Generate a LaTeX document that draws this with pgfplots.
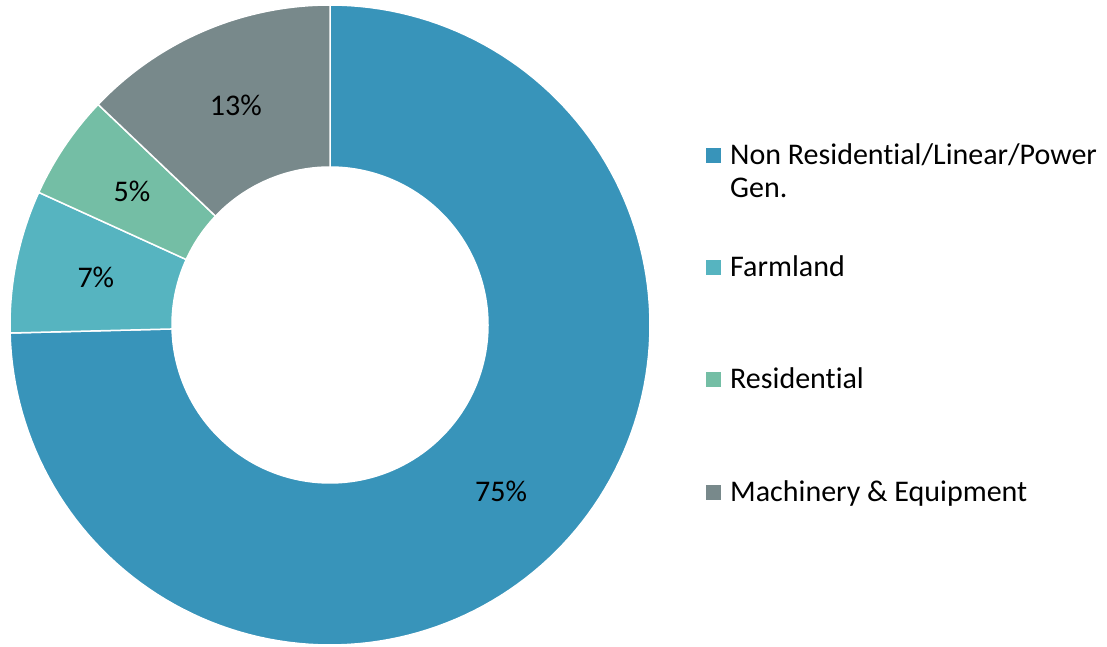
\documentclass[border=0pt]{standalone}
\usepackage{pgfplots}
\pgfplotsset{compat=1.18}
\usepackage{fontspec}
\setmainfont{Carlito}[Ligatures={NoCommon,TeX}]
\definecolor{cBlue}{HTML}{3894BA}
\definecolor{cFarm}{HTML}{56B4C0}
\definecolor{cRes}{HTML}{74BEA5}
\definecolor{cMach}{HTML}{78898B}
% shares in percent (clockwise from 12 o'clock)
\def\vBlue{74.6}
\def\vFarm{7.2}
\def\vRes{5.3}
\def\vMach{12.9}
\def\Rout{320}
\def\Rin{158}
\newcommand\legtext[3]{%
  \fill[#1] (axis cs:376,#2+2) rectangle (axis cs:391,#2+17);
  \node[anchor=base west, inner sep=0pt, font=\fontsize{30}{33}\selectfont] at (axis cs:400,#2) {#3};
}
\begin{document}
\begin{tikzpicture}
\pgfmathsetmacro\aA{90}
\pgfmathsetmacro\aB{\aA-3.6*\vBlue}
\pgfmathsetmacro\aC{\aB-3.6*\vFarm}
\pgfmathsetmacro\aD{\aC-3.6*\vRes}
\pgfmathsetmacro\aE{\aD-3.6*\vMach}
\pgfmathsetmacro\Rmid{(\Rout+\Rin)/2}
\pgfmathsetmacro\mA{(\aA+\aB)/2}
\pgfmathsetmacro\mB{(\aB+\aC)/2}
\pgfmathsetmacro\mC{(\aC+\aD)/2}
\pgfmathsetmacro\mD{(\aD+\aE)/2}
\begin{axis}[x=1pt,y=1pt,xmin=-330,xmax=777,ymin=-322,ymax=325,
  hide axis, clip=false, scale only axis]
\addplot[draw=none] coordinates {(-330,-322) (777,325)};
\addplot[fill=cBlue, draw=white, line width=1.5pt, domain=\aB:\aA, samples=150, variable=\ang] ({\Rout*cos(\ang)},{\Rout*sin(\ang)}) -- (axis cs:0,0) -- cycle;
\addplot[fill=cFarm, draw=white, line width=1.5pt, domain=\aC:\aB, samples=30, variable=\ang] ({\Rout*cos(\ang)},{\Rout*sin(\ang)}) -- (axis cs:0,0) -- cycle;
\addplot[fill=cRes, draw=white, line width=1.5pt, domain=\aD:\aC, samples=30, variable=\ang] ({\Rout*cos(\ang)},{\Rout*sin(\ang)}) -- (axis cs:0,0) -- cycle;
\addplot[fill=cMach, draw=white, line width=1.5pt, domain=\aE:\aD, samples=50, variable=\ang] ({\Rout*cos(\ang)},{\Rout*sin(\ang)}) -- (axis cs:0,0) -- cycle;
\addplot[fill=white, draw=white, line width=1.5pt, domain=0:360, samples=180, variable=\ang] ({\Rin*cos(\ang)},{\Rin*sin(\ang)}) -- cycle;
% percentage labels
\node[font=\fontsize{30}{34}\selectfont] at (axis cs:{\Rmid*cos(\mA)},{\Rmid*sin(\mA)}) {75\%};
\node[font=\fontsize{30}{34}\selectfont] at (axis cs:{\Rmid*cos(\mB)},{\Rmid*sin(\mB)}) {7\%};
\node[font=\fontsize{30}{34}\selectfont] at (axis cs:{\Rmid*cos(\mC)},{\Rmid*sin(\mC)}) {5\%};
\node[font=\fontsize{30}{34}\selectfont] at (axis cs:{\Rmid*cos(\mD)},{\Rmid*sin(\mD)}) {13\%};
% legend
\legtext{cBlue}{160}{Non Residential/Linear/Power}
\node[anchor=base west, inner sep=0pt, font=\fontsize{30}{33}\selectfont] at (axis cs:400,127) {Gen.};
\legtext{cFarm}{48}{Farmland}
\legtext{cRes}{-64}{Residential}
\legtext{cMach}{-177}{Machinery \& Equipment}
\end{axis}
\end{tikzpicture}
\end{document}
